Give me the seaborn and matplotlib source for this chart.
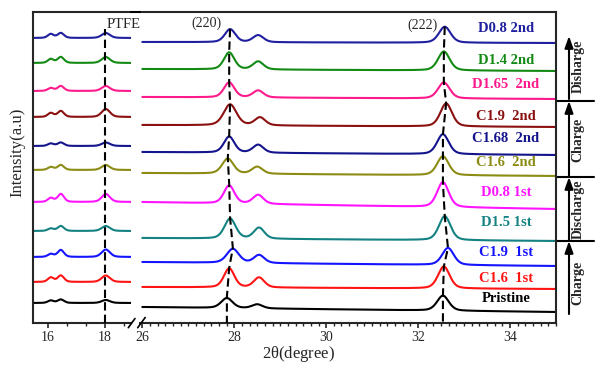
import numpy as np
import pandas as pd
import matplotlib
matplotlib.use('Agg')
import matplotlib.pyplot as plt
import matplotlib.transforms as mtransforms
from matplotlib.ticker import MultipleLocator
import seaborn as sns

# ---- data (intensity in arbitrary, offset units) ----
samples = ['D0.8 2nd', 'D1.4 2nd', 'D1.65  2nd', 'C1.9  2nd', 'C1.68  2nd', 'C1.6  2nd',
           'D0.8 1st', 'D1.5 1st', 'C1.9  1st', 'C1.6  1st', 'Pristine']
colors = ['#1f1f9f', '#138a13', '#ff1a8c', '#8b1010', '#14148c', '#8c8c14',
          '#ff14ff', '#148282', '#1414ff', '#ff1414', '#000000']

# right window (26-35 deg): baseline at 26 and at 35
base_start = [281, 254, 226, 198, 171, 150, 121, 85, 61, 36, 16]
base_end = [280, 252, 224, 196, 168, 147, 114, 82, 57, 34, 11]
# (220) reflection
pos220 = [27.91, 27.89, 27.89, 27.91, 27.89, 27.86, 27.89, 27.91, 27.97, 27.89, 27.84]
h220 = [13, 17, 15, 21, 16, 15, 18, 20, 14, 19, 10]
w220 = [0.27, 0.27, 0.27, 0.33, 0.27, 0.29, 0.27, 0.29, 0.31, 0.27, 0.29]
# shoulder reflection near 28.5
pos285 = [28.52, 28.52, 28.52, 28.56, 28.52, 28.50, 28.52, 28.54, 28.54, 28.54, 28.50]
h285 = [7, 8, 7, 8, 8, 7, 9, 11, 8, 10, 4]
# (222) reflection
pos222 = [32.58, 32.56, 32.56, 32.61, 32.54, 32.54, 32.54, 32.58, 32.65, 32.56, 32.54]
h222 = [16, 19, 16, 23, 20, 19, 25, 24, 17, 22, 15]

# left window (15.5-19 deg)
left_base = [285, 260, 232, 206, 177, 153, 121, 92, 66, 41, 20]
pos161, pos165 = 16.11, 16.46
h161 = [4, 4, 3, 4, 2.5, 3, 4, 2.5, 3, 4.5, 2.5]
h165 = [5, 6, 5, 6, 3.5, 5, 8, 5, 7, 6.5, 3.5]
ptfe_pos = 18.03
h_ptfe = [5, 6, 5, 8, 3.5, 5, 8, 5, 7.5, 6.5, 3]

# electrochemical groups (bottom to top)
group_names = ['Charge', 'Discharge', 'Charge', 'Disharge']
group_bounds = [(9, 82), (82, 146), (146, 222), (224, 287)]
separators = [82, 146, 222]

# ---- layout ----
label_y = [295, 263, 238, 207, 185, 160, 130, 100, 71, 44, 25]
group_text_y = [40, 114, 183, 257]


def peak(x, pos, h, fwhm, eta=0.35):
    d = (x - pos) / fwhm
    return h * (eta / (1 + 4 * d ** 2) + (1 - eta) * np.exp(-4 * np.log(2) * d ** 2))


xl = np.linspace(15.49, 18.95, 500)
xr = np.linspace(26.0, 35.0, 1500)
rows = []
for i, s in enumerate(samples):
    yl = (left_base[i] + peak(xl, pos161, h161[i], 0.24) + peak(xl, pos165, h165[i], 0.26)
          + peak(xl, ptfe_pos, h_ptfe[i], 0.34))
    rows.append(pd.DataFrame({'two_theta': xl, 'intensity': yl, 'sample': s, 'panel': 'left'}))
    yr = (base_start[i] + (base_end[i] - base_start[i]) * (xr - 26.0) / 9.0
          + peak(xr, pos220[i], h220[i], w220[i]) + peak(xr, pos285[i], h285[i], 0.27)
          + peak(xr, pos222[i], h222[i], 0.30))
    rows.append(pd.DataFrame({'two_theta': xr, 'intensity': yr, 'sample': s, 'panel': 'right'}))
df = pd.concat(rows, ignore_index=True)
palette = dict(zip(samples, colors))

sns.set_style('ticks')
plt.rcParams['font.family'] = ['Liberation Serif', 'DejaVu Serif']
plt.rcParams['mathtext.fontset'] = 'stix'

fig = plt.figure(figsize=(6, 3.69), dpi=100)
W, H = 600, 369
ax1 = fig.add_axes([33 / W, 46 / H, 98 / W, 311 / H])
ax2 = fig.add_axes([140 / W, 46 / H, 416 / W, 311 / H])

sns.lineplot(data=df[df.panel == 'left'], x='two_theta', y='intensity', hue='sample',
             palette=palette, legend=False, ax=ax1, sort=False, estimator=None, lw=1.5)
sns.lineplot(data=df[df.panel == 'right'], x='two_theta', y='intensity', hue='sample',
             palette=palette, legend=False, ax=ax2, sort=False, estimator=None, lw=1.5)

ax1.set_xlim(15.49, 18.91)
ax2.set_xlim(25.95, 35.0)
for ax in (ax1, ax2):
    ax.set_ylim(0, 311)
    ax.set_yticks([])
    ax.set_xlabel('')
    ax.set_ylabel('')
    for sp in ax.spines.values():
        sp.set_linewidth(1.5)
        sp.set_visible(True)
    ax.tick_params(axis='x', which='major', direction='out', length=3.5, width=1.2,
                   labelsize=10, pad=2)
    ax.tick_params(axis='x', which='minor', direction='out', length=2, width=1.0)
ax1.spines['right'].set_visible(False)
ax2.spines['left'].set_visible(False)
ax1.set_xticks([16, 18])
ax1.xaxis.set_minor_locator(MultipleLocator(2 / 3))
ax2.xaxis.set_major_locator(MultipleLocator(2))
ax2.xaxis.set_minor_locator(MultipleLocator(1 / 6))

dash = dict(color='black', lw=1.5, linestyle=(0, (4, 2)), zorder=5)
# PTFE guide
ax1.plot([18.0, 18.0], [0, 294], **dash)
# (220) and (222) guides through the peak tops
top220 = [b + h for b, h in zip(base_start, h220)]
ax2.plot(pos220 + [pos220[-1]], top220 + [0], **dash)
top222 = [b + (e - b) * (p - 26) / 9 + h for b, e, p, h in zip(base_start, base_end, pos222, h222)]
ax2.plot(pos222 + [pos222[-1]], top222 + [0], **dash)

fig.text(123.5 / W, 1 - 24 / H, 'PTFE', fontsize=10.5, ha='center', va='center')
fig.text(206 / W, 1 - 23 / H, '(220)', fontsize=10, ha='center', va='center')
fig.text(422 / W, 1 - 25 / H, '(222)', fontsize=10, ha='center', va='center')

for s, c, y in zip(samples, colors, label_y):
    ax2.text(33.91, y, s, color=c, fontsize=10.5, fontweight='bold', ha='center', va='center')

# axis titles
fig.text(298 / W, 1 - 354 / H, r'2$\mathregular{\theta}$(degree)', fontsize=12,
         ha='center', va='center')
fig.text(17 / W, 1 - 152 / H, 'Intensity(a.u)', fontsize=12, rotation=90,
         ha='center', va='center')

# continuous top border across the break + break marks
fig.add_artist(plt.Line2D([131 / W, 140 / W], [1 - 12 / H, 1 - 12 / H], color='black', lw=1.5))
for x0, y0, x1, y1 in [(128.3, 327.7, 135, 318.5), (137.7, 327.7, 145.2, 317.5)]:
    fig.add_artist(plt.Line2D([x0 / W, x1 / W], [1 - y0 / H, 1 - y1 / H], color='black', lw=1.2))

# charge/discharge brackets on the right
trans = mtransforms.blended_transform_factory(fig.transFigure, ax2.transData)
for y in separators:
    ax2.plot([557 / W, 594 / W], [y, y], color='black', lw=1.5, transform=trans, clip_on=False)
for name, (lo, hi), ty in zip(group_names, group_bounds, group_text_y):
    ax2.annotate('', xy=(569 / W, hi), xytext=(569 / W, lo), xycoords=trans, textcoords=trans,
                 arrowprops=dict(arrowstyle='-|>,head_length=0.7,head_width=0.25',
                                 lw=1.5, color='black', shrinkA=0, shrinkB=0,
                                 mutation_scale=10),
                 annotation_clip=False)
    ax2.text(578 / W, ty, name, transform=trans, rotation=90, fontsize=10,
             fontweight='bold', ha='center', va='center')

fig.savefig('out.png', dpi=100)
